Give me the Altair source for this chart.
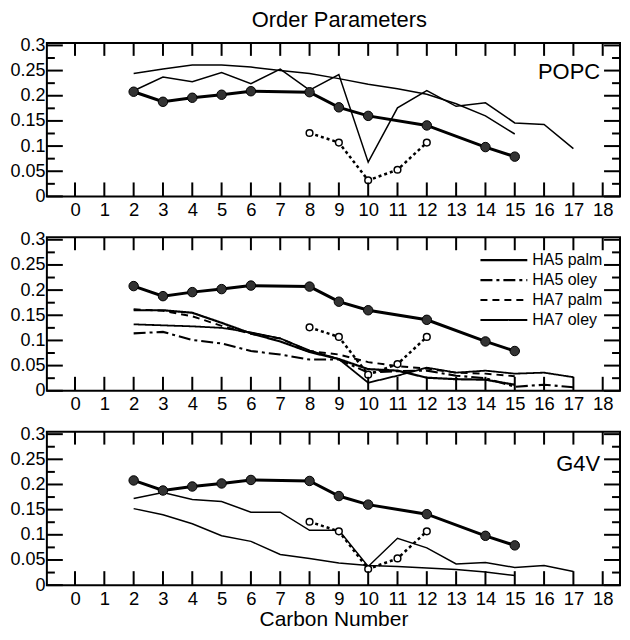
import altair as alt
import pandas as pd

# ---------------- data ----------------
exp_carbons = [2, 3, 4, 5, 6, 8, 9, 10, 12, 14, 15]
exp_palm = [0.208, 0.188, 0.196, 0.202, 0.209, 0.207, 0.177, 0.160, 0.141, 0.098, 0.079]
exp_oley_carbons = [8, 9, 10, 11, 12]
exp_oley = [0.126, 0.107, 0.032, 0.053, 0.107]

palm_carbons = list(range(2, 16))
oley_carbons = list(range(2, 18))

popc_palm = [0.244, 0.253, 0.261, 0.261, 0.257, 0.250, 0.244, 0.234, 0.223, 0.214, 0.203, 0.184, 0.160, 0.124]
popc_oley = [0.210, 0.237, 0.228, 0.246, 0.224, 0.253, 0.211, 0.242, 0.068, 0.176, 0.210, 0.179, 0.186, 0.146, 0.143, 0.095]

ha5_palm = [0.160, 0.160, 0.155, 0.135, 0.114, 0.098, 0.077, 0.063, 0.043, 0.040, 0.026, 0.023, 0.022, 0.012]
ha5_oley = [0.114, 0.117, 0.101, 0.094, 0.079, 0.072, 0.062, 0.062, 0.036, 0.039, 0.040, 0.030, 0.025, 0.008, 0.012, 0.007]
ha7_palm = [0.162, 0.159, 0.148, 0.129, 0.113, 0.104, 0.079, 0.072, 0.057, 0.049, 0.044, 0.036, 0.034, 0.029]
ha7_oley = [0.132, 0.130, 0.128, 0.125, 0.116, 0.104, 0.080, 0.063, 0.016, 0.030, 0.046, 0.036, 0.040, 0.034, 0.036, 0.027]

g4v_palm = [0.152, 0.140, 0.122, 0.098, 0.087, 0.061, 0.053, 0.044, 0.039, 0.037, 0.034, 0.031, 0.026, 0.019]
g4v_oley = [0.172, 0.184, 0.170, 0.166, 0.145, 0.145, 0.109, 0.109, 0.037, 0.093, 0.074, 0.042, 0.045, 0.035, 0.039, 0.027]

series_names = ["HA5 palm", "HA5 oley", "HA7 palm", "HA7 oley"]

x_tick_values = list(range(0, 19))
y_major_values = [0, 0.05, 0.1, 0.15, 0.2, 0.25, 0.3]
y_minor_values = [0.025, 0.075, 0.125, 0.175, 0.225, 0.275]

FONT = "Liberation Sans"
W, H = 575, 154


def sim_frame(pairs):
    rows = []
    for name, xs, ys in pairs:
        for c, s in zip(xs, ys):
            rows.append({"carbon": c, "S": s, "series": name})
    return pd.DataFrame(rows)


exp_df = pd.DataFrame({"carbon": exp_carbons, "S": exp_palm})
exp_oley_df = pd.DataFrame({"carbon": exp_oley_carbons, "S": exp_oley})
xt_df = pd.DataFrame({"carbon": x_tick_values})
ymaj_df = pd.DataFrame({"S": y_major_values})
ymin_df = pd.DataFrame({"S": y_minor_values})
leg_df = pd.DataFrame({"series": series_names})

xscale = alt.Scale(domain=[-0.96, 18.59], nice=False, zero=False)
yscale = alt.Scale(domain=[0, 0.305], nice=False, zero=False)

dash_scale = alt.Scale(domain=series_names, range=[[1, 0], [12, 4, 3, 4], [7, 5], [1, 0]])
width_scale = alt.Scale(domain=series_names, range=[2.2, 1.8, 1.5, 1.0])


def make_panel(sim_df, label, label_y, legend=False, xtitle=None):
    xaxis = alt.Axis(values=x_tick_values, format="d", title=xtitle, labelFontSize=18.5,
                     labelPadding=4, titleFontSize=21, titlePadding=1, titleFontWeight="normal",
                     titleFont=FONT, labelFont=FONT)
    yaxis = alt.Axis(values=y_major_values, format="~g", title=None, labelFontSize=18,
                     labelPadding=2, labelFont=FONT)
    X = alt.X("carbon:Q", scale=xscale, axis=xaxis)
    Y = alt.Y("S:Q", scale=yscale, axis=yaxis)

    layers = []
    if legend:
        sim = alt.Chart(sim_df).mark_line(color="black").encode(
            x=X, y=Y,
            strokeDash=alt.StrokeDash("series:N", scale=dash_scale, legend=None),
            strokeWidth=alt.StrokeWidth("series:N", scale=width_scale, legend=None),
        )
    else:
        sim = alt.Chart(sim_df).mark_line(color="black", strokeWidth=1.5).encode(
            x=X, y=Y, detail="series:N"
        )
    layers.append(sim)

    layers.append(alt.Chart(exp_oley_df).mark_line(color="black", strokeWidth=2.5,
                                                   strokeDash=[3, 3]).encode(x=X, y=Y))
    layers.append(alt.Chart(exp_df).mark_line(color="black", strokeWidth=3).encode(x=X, y=Y))
    layers.append(alt.Chart(exp_oley_df).mark_point(shape="circle", filled=False, fill="white",
                                                    fillOpacity=1, stroke="black", strokeWidth=1.5,
                                                    size=45, opacity=1).encode(x=X, y=Y))
    layers.append(alt.Chart(exp_df).mark_circle(color="#333333", stroke="black", strokeWidth=1,
                                                size=90, opacity=1).encode(x=X, y=Y))

    # inward ticks
    layers.append(alt.Chart(xt_df).mark_rule(color="black", strokeWidth=2).encode(
        x=X, y=alt.value(H), y2=alt.value(H - 14)))
    layers.append(alt.Chart(xt_df).mark_rule(color="black", strokeWidth=2).encode(
        x=X, y=alt.value(0), y2=alt.value(13)))
    for d, ln in ((ymaj_df, 16), (ymin_df, 8)):
        layers.append(alt.Chart(d).mark_rule(color="black", strokeWidth=2).encode(
            y=Y, x=alt.value(0), x2=alt.value(ln)))
        layers.append(alt.Chart(d).mark_rule(color="black", strokeWidth=2).encode(
            y=Y, x=alt.value(W), x2=alt.value(W - ln)))

    if label:
        layers.append(alt.Chart(pd.DataFrame({"label": [label]})).mark_text(
            align="right", baseline="alphabetic", fontSize=22, font=FONT, color="black"
        ).encode(x=alt.value(W - 20), y=alt.value(label_y), text="label:N"))

    main = alt.layer(*layers)
    if legend:
        LY = alt.Y("series:N", axis=None,
                   scale=alt.Scale(type="point", domain=series_names, range=[23, 83], padding=0))
        leg_rule = alt.Chart(leg_df).mark_rule(color="black").encode(
            x=alt.value(435), x2=alt.value(482), y=LY,
            strokeDash=alt.StrokeDash("series:N", scale=dash_scale, legend=None),
            strokeWidth=alt.StrokeWidth("series:N", scale=width_scale, legend=None),
        )
        leg_text = alt.Chart(leg_df).mark_text(
            align="left", baseline="middle", fontSize=16, font=FONT, color="black"
        ).encode(x=alt.value(487), y=LY, text="series:N")
        return alt.layer(main, leg_rule, leg_text).resolve_scale(y="independent").properties(
            width=W, height=H)
    return main.properties(width=W, height=H)


p1 = make_panel(sim_frame([("palm", palm_carbons, popc_palm), ("oley", oley_carbons, popc_oley)]),
                "POPC", 36)
p2 = make_panel(sim_frame([("HA5 palm", palm_carbons, ha5_palm), ("HA5 oley", oley_carbons, ha5_oley),
                           ("HA7 palm", palm_carbons, ha7_palm), ("HA7 oley", oley_carbons, ha7_oley)]),
                None, 0, legend=True)
p3 = make_panel(sim_frame([("palm", palm_carbons, g4v_palm), ("oley", oley_carbons, g4v_oley)]),
                "G4V", 39, xtitle="Carbon Number")

chart = alt.vconcat(p1, p2, p3, spacing=41, bounds="flush").resolve_scale(
    strokeDash="independent", strokeWidth="independent"
).properties(
    title=alt.TitleParams("Order Parameters", fontSize=22, font=FONT, fontWeight="normal",
                          anchor="middle", offset=3, dx=24, color="black"),
    padding={"left": 0, "top": 0, "right": 0, "bottom": 0},
).configure_view(stroke="black", strokeWidth=2).configure_axis(
    domain=False, grid=False, ticks=False, labelColor="black", titleColor="black"
)

chart.save("out.html", embed_options={"renderer": "svg", "actions": False})
